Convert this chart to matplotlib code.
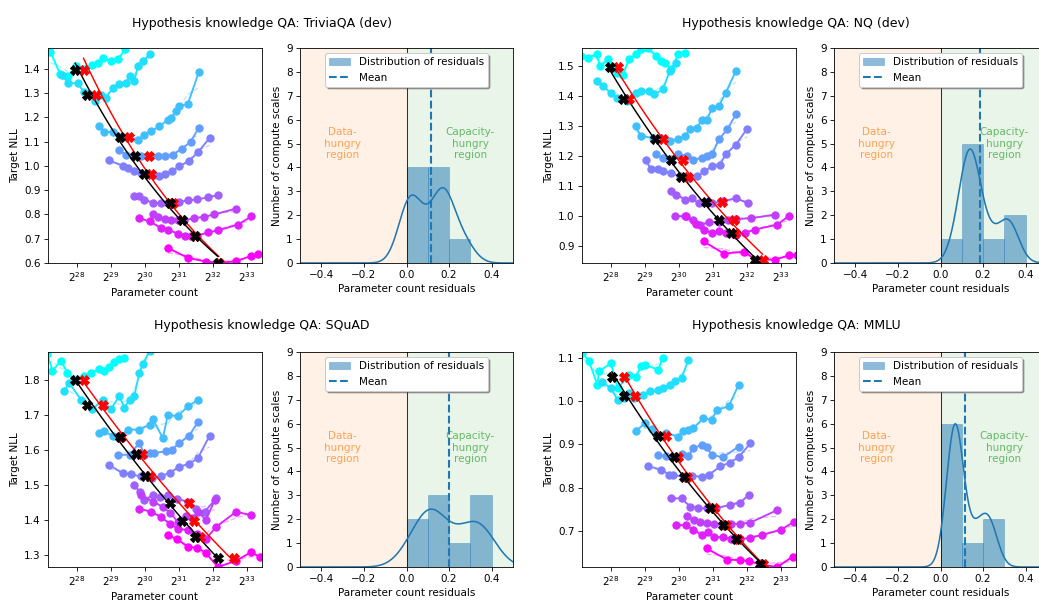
import numpy as np
import pandas as pd
import matplotlib
matplotlib.use("Agg")
import matplotlib.pyplot as plt
from matplotlib.ticker import MultipleLocator

W, H, DPI = 1039, 601, 75

# ---------------- data (x values are log2 of parameter count) ----------------
titles = ["Hypothesis knowledge QA: TriviaQA (dev)", "Hypothesis knowledge QA: NQ (dev)",
          "Hypothesis knowledge QA: SQuAD", "Hypothesis knowledge QA: MMLU"]

# TriviaQA
tq_curves_x = [
    [27.22, 27.5, 27.75, 27.97, 28.2, 28.46, 28.62, 28.78, 29.0, 29.22, 29.42],
    [27.55, 27.75, 28.02, 28.2, 28.36, 28.52, 28.7, 28.86, 29.05, 29.25, 29.45, 29.55, 29.69, 29.8, 29.95, 30.14],
    [28.66, 28.81, 29.05, 29.26, 29.5, 29.79, 29.99, 30.19, 30.43, 30.68, 30.78, 30.92, 31.02, 31.27, 31.59],
    [29.25, 29.45, 29.69, 29.89, 30.14, 30.38, 30.58, 30.82, 31.1, 31.35, 31.59],
    [28.95, 29.35, 29.5, 29.69, 29.89, 30.09, 30.28, 30.43, 30.58, 30.8, 31.02, 31.3, 31.56, 31.91],
    [29.69, 29.84, 29.99, 30.24, 30.48, 30.73, 31.0, 31.27, 31.55, 31.86, 32.15],
    [30.24, 30.38, 30.58, 30.78, 30.97, 31.15, 31.46, 31.75, 32.05, 32.69],
    [29.84, 30.14, 30.48, 30.68, 30.97, 31.17, 31.35, 31.55, 31.86, 32.15, 32.74, 33.14],
    [30.68, 31.27, 31.81, 32.15, 32.69, 33.14, 33.34, 33.6],
]
tq_curves_y = [
    [1.47, 1.38, 1.37, 1.41, 1.40, 1.415, 1.425, 1.445, 1.43, 1.44, 1.48],
    [1.375, 1.34, 1.34, 1.305, 1.295, 1.265, 1.29, 1.28, 1.32, 1.335, 1.34, 1.37, 1.35, 1.41, 1.43, 1.46],
    [1.163, 1.139, 1.14, 1.12, 1.12, 1.105, 1.128, 1.142, 1.163, 1.19, 1.197, 1.224, 1.245, 1.256, 1.386],
    [1.064, 1.045, 1.042, 1.040, 1.039, 1.042, 1.04, 1.046, 1.07, 1.10, 1.156],
    [1.023, 1.0, 0.993, 0.977, 0.970, 0.966, 0.961, 0.957, 0.965, 0.978, 0.998, 1.02, 1.055, 1.115],
    [0.877, 0.874, 0.861, 0.847, 0.845, 0.845, 0.85, 0.858, 0.862, 0.87, 0.88],
    [0.80, 0.789, 0.781, 0.778, 0.776, 0.775, 0.785, 0.79, 0.80, 0.824],
    [0.785, 0.771, 0.744, 0.737, 0.721, 0.712, 0.712, 0.712, 0.726, 0.734, 0.758, 0.792],
    [0.662, 0.621, 0.606, 0.60, 0.607, 0.63, 0.637, 0.64],
]
tq_opt_x = [27.95, 28.30, 29.26, 29.72, 29.99, 30.73, 31.10, 31.47, 32.15]
tq_opt_y = [1.393, 1.293, 1.119, 1.042, 0.968, 0.847, 0.776, 0.712, 0.602]
tq_resid = [0.17, 0.18, 0.19, 0.27, 0.14, 0.07, 0.005, 0.01, 0.02]

# NQ
nq_curves_x = [
    [27.13, 27.33, 27.58, 27.68, 27.93, 28.18, 28.35, 28.53, 28.73, 28.88, 29.1, 29.33, 29.48, 29.58, 29.78, 29.98, 30.18],
    [27.58, 27.78, 28.0, 28.18, 28.48, 28.73, 28.88, 29.13, 29.28, 29.53, 29.73, 29.93],
    [28.73, 28.88, 29.23, 29.48, 29.73, 29.98, 30.18, 30.33, 30.53, 30.68, 30.83, 30.98, 31.18, 31.38, 31.68],
    [29.33, 29.53, 29.78, 29.98, 30.23, 30.43, 30.68, 30.83, 30.98, 31.18, 31.43, 31.68],
    [29.03, 29.18, 29.38, 29.53, 29.78, 30.03, 30.28, 30.53, 30.75, 30.98, 31.2, 31.38, 31.68, 32.01],
    [29.78, 29.93, 30.18, 30.38, 30.58, 30.81, 30.98, 31.3, 31.68, 32.03],
    [29.88, 30.18, 30.43, 30.63, 30.9, 31.18, 31.45, 31.68, 32.13, 32.83],
    [30.2, 30.5, 30.75, 30.98, 31.18, 31.38, 31.68, 31.95, 32.23, 32.88, 33.23],
    [30.73, 31.33, 31.93, 32.25, 32.83, 33.23, 33.48],
]
nq_curves_y = [
    [1.533, 1.528, 1.539, 1.50, 1.524, 1.478, 1.47, 1.522, 1.539, 1.556, 1.56, 1.533, 1.517, 1.511, 1.489, 1.539, 1.542],
    [1.45, 1.433, 1.41, 1.394, 1.383, 1.411, 1.417, 1.417, 1.406, 1.422, 1.483, 1.511],
    [1.30, 1.267, 1.261, 1.261, 1.25, 1.256, 1.267, 1.289, 1.294, 1.322, 1.322, 1.361, 1.367, 1.411, 1.483],
    [1.206, 1.194, 1.19, 1.209, 1.2, 1.189, 1.194, 1.2, 1.206, 1.256, 1.29, 1.339],
    [1.189, 1.156, 1.156, 1.15, 1.144, 1.133, 1.128, 1.133, 1.15, 1.167, 1.17, 1.206, 1.239, 1.291],
    [1.083, 1.072, 1.056, 1.06, 1.044, 1.047, 1.044, 1.05, 1.061, 1.044],
    [1.002, 1.0, 0.989, 0.972, 0.98, 0.983, 0.988, 0.991, 0.994, 1.006],
    [1.0, 0.975, 0.955, 0.944, 0.95, 0.944, 0.939, 0.945, 0.956, 0.972, 1.0],
    [0.917, 0.876, 0.883, 0.856, 0.856, 0.87, 0.87],
]
nq_opt_x = [27.98, 28.35, 29.31, 29.78, 30.06, 30.81, 31.18, 31.53, 32.25]
nq_opt_y = [1.498, 1.392, 1.258, 1.189, 1.131, 1.047, 0.989, 0.944, 0.856]
nq_resid = [0.15, 0.12, 0.15, 0.23, 0.14, 0.33, 0.31, 0.09, 0.15]

# SQuAD
sq_curves_x = [
    [27.13, 27.28, 27.53, 27.72, 27.95, 28.22, 28.41, 28.66, 28.81, 28.95, 29.1, 29.25, 29.40],
    [27.63, 27.77, 28.12, 28.46, 28.76, 29.0, 29.25, 29.40, 29.55, 29.69, 29.84, 29.94, 30.14],
    [28.66, 28.81, 29.05, 29.28, 29.5, 29.84, 30.14, 30.24, 30.53, 30.68, 30.97, 31.27, 31.56],
    [29.2, 29.55, 29.84, 29.99, 30.14, 30.28, 30.63, 30.8, 31.02, 31.3, 31.56],
    [28.95, 29.35, 29.6, 29.89, 30.2, 30.48, 30.75, 31.02, 31.3, 31.56, 31.91],
    [29.69, 29.85, 29.99, 30.24, 30.45, 30.68, 30.95, 31.27, 31.5, 31.76, 32.1],
    [29.9, 30.24, 30.53, 30.75, 30.97, 31.2, 31.4, 31.56, 31.8, 32.06],
    [29.84, 30.19, 30.48, 30.73, 30.97, 31.27, 31.55, 31.8, 32.1, 32.69, 33.14],
    [30.68, 30.95, 31.27, 31.55, 31.8, 32.15, 32.69, 33.14, 33.38],
]
sq_curves_y = [
    [1.874, 1.826, 1.855, 1.821, 1.80, 1.812, 1.821, 1.831, 1.826, 1.836, 1.85, 1.861, 1.864],
    [1.768, 1.792, 1.744, 1.716, 1.744, 1.716, 1.754, 1.72, 1.744, 1.754, 1.821, 1.845, 1.883],
    [1.648, 1.653, 1.64, 1.637, 1.658, 1.658, 1.672, 1.687, 1.634, 1.701, 1.696, 1.725, 1.742],
    [1.586, 1.586, 1.62, 1.586, 1.591, 1.591, 1.596, 1.6, 1.62, 1.64, 1.679],
    [1.557, 1.533, 1.53, 1.524, 1.52, 1.524, 1.535, 1.552, 1.56, 1.576, 1.641],
    [1.50, 1.48, 1.456, 1.47, 1.465, 1.471, 1.46, 1.452, 1.43, 1.423, 1.461],
    [1.47, 1.452, 1.437, 1.42, 1.394, 1.41, 1.405, 1.423, 1.40, 1.456],
    [1.432, 1.423, 1.408, 1.389, 1.375, 1.37, 1.36, 1.345, 1.38, 1.423, 1.413],
    [1.356, 1.345, 1.322, 1.32, 1.305, 1.265, 1.283, 1.308, 1.293],
]
sq_opt_x = [27.95, 28.30, 29.28, 29.74, 30.01, 30.75, 31.10, 31.47, 32.15]
sq_opt_y = [1.799, 1.727, 1.637, 1.588, 1.526, 1.447, 1.396, 1.351, 1.290]
sq_resid = [0.17, 0.32, 0.02, 0.12, 0.09, 0.39, 0.25, 0.11, 0.33]

# MMLU
mm_curves_x = [
    [27.16, 27.36, 27.6, 27.65, 28.0, 28.2, 28.54, 28.74, 28.89, 28.99, 29.39, 29.53],
    [27.75, 28.0, 28.2, 28.4, 28.54, 28.69, 28.94, 29.14, 29.39, 29.53, 29.73, 29.88, 30.08, 30.28],
    [28.74, 28.99, 29.2, 29.39, 29.63, 29.98, 30.13, 30.28, 30.43, 30.72, 30.97, 31.12, 31.47, 31.76],
    [29.39, 29.63, 29.88, 30.1, 30.28, 30.43, 30.67, 30.82, 30.97, 31.3, 31.76],
    [29.09, 29.49, 29.7, 29.83, 30.14, 30.4, 30.67, 30.9, 31.22, 31.5, 31.76, 32.11],
    [29.78, 30.08, 30.33, 30.57, 30.82, 31.1, 31.51, 31.8, 32.06],
    [30.23, 30.45, 30.62, 30.82, 31.05, 31.3, 31.55, 31.8, 32.11, 32.9],
    [29.93, 30.2, 30.43, 30.67, 30.85, 31.05, 31.3, 31.55, 31.8, 32.1, 32.45, 33.0, 33.4],
    [30.82, 31.42, 31.8, 32.06, 32.4, 32.9, 33.35],
]
mm_curves_y = [
    [1.112, 1.092, 1.038, 1.069, 1.088, 1.03, 1.061, 1.057, 1.081, 1.085, 1.073, 1.10],
    [1.045, 1.03, 1.003, 1.007, 1.019, 1.007, 1.015, 1.023, 1.026, 1.03, 1.038, 1.046, 1.054, 1.095],
    [0.93, 0.949, 0.935, 0.92, 0.926, 0.918, 0.93, 0.934, 0.937, 0.961, 0.957, 0.98, 0.988, 1.038],
    [0.876, 0.872, 0.87, 0.878, 0.873, 0.891, 0.899, 0.893, 0.876, 0.87, 0.895],
    [0.85, 0.841, 0.83, 0.829, 0.825, 0.827, 0.825, 0.83, 0.849, 0.858, 0.87, 0.903],
    [0.775, 0.775, 0.756, 0.752, 0.752, 0.752, 0.76, 0.765, 0.783],
    [0.733, 0.725, 0.721, 0.717, 0.715, 0.713, 0.716, 0.716, 0.719, 0.748],
    [0.713, 0.713, 0.702, 0.69, 0.698, 0.685, 0.685, 0.68, 0.68, 0.684, 0.69, 0.702, 0.721],
    [0.659, 0.633, 0.632, 0.63, 0.622, 0.616, 0.64],
]
mm_opt_x = [28.03, 28.40, 29.39, 29.86, 30.14, 30.93, 31.30, 31.68, 32.40]
mm_opt_y = [1.056, 1.011, 0.92, 0.870, 0.825, 0.752, 0.713, 0.680, 0.624]
mm_resid = [0.24, 0.21, 0.16, 0.08, 0.07, 0.08, 0.07, 0.05, 0.06]

ylims = [(0.6, 1.485), (0.845, 1.56), (1.265, 1.88), (0.616, 1.114)]
xlim_log2 = (27.15, 33.45)


def px_rect(left, top, width, height):
    return [left / W, 1 - (top + height) / H, width / W, height / H]


def kde(values, grid, adjust=0.85):
    values = np.asarray(values)
    bw = adjust * values.std(ddof=1) * len(values) ** (-1 / 5)
    z = (grid[:, None] - values[None, :]) / bw
    return np.exp(-0.5 * z ** 2).sum(axis=1) / (len(values) * bw * np.sqrt(2 * np.pi))


def draw_curves(ax, curves_x, curves_y, opt_x, opt_y, resid, ylim):
    colors = plt.cm.cool(np.linspace(0, 1, len(curves_x)))
    for cx, cy, col in zip(curves_x, curves_y, colors):
        n = 2.0 ** np.asarray(cx)
        smooth = pd.Series(cy).rolling(3, center=True, min_periods=1).mean()
        ax.plot(n, smooth, "--", color=col, alpha=0.35, lw=1.3)
        ax.plot(n, cy, "-o", color=col, ms=7, lw=1.8)

    opt_x = np.asarray(opt_x)
    opt_y = np.asarray(opt_y)
    red_x = opt_x + np.asarray(resid) / np.log(2)
    for xs_pts, col in [(red_x, "red"), (opt_x, "black")]:
        coef = np.polyfit(xs_pts, np.log(opt_y), 1)
        xs = np.linspace(xs_pts.min(), xs_pts.max(), 100)
        ax.plot(2.0 ** xs, np.exp(np.polyval(coef, xs)), color=col, lw=1.4)
    ax.plot(2.0 ** red_x, opt_y, "X", color="red", ms=9, ls="none")
    ax.plot(2.0 ** opt_x, opt_y, "X", color="black", ms=9, ls="none")

    ax.set_xscale("log", base=2)
    ax.set_xlim(2.0 ** xlim_log2[0], 2.0 ** xlim_log2[1])
    ax.set_xticks([2.0 ** k for k in range(28, 34)])
    ax.set_ylim(*ylim)
    ax.yaxis.set_major_locator(MultipleLocator(0.1))
    ax.set_xlabel("Parameter count")
    ax.set_ylabel("Target NLL")


def draw_hist(ax, resid):
    ax.axvspan(-0.5, 0, color="tab:orange", alpha=0.1, lw=0)
    ax.axvspan(0, 0.5, color="tab:green", alpha=0.1, lw=0)
    ax.axvline(0, color="black", lw=1, alpha=0.8)
    bins = np.round(np.arange(-5, 6) * 0.1, 2)
    ax.hist(resid, bins=bins, color="tab:blue", alpha=0.5, edgecolor="tab:blue",
            lw=0.6, label="Distribution of residuals")
    grid = np.linspace(-0.5, 0.5, 400)
    ax.plot(grid, kde(resid, grid) * len(resid) * 0.1, color="tab:blue", lw=1.5)
    ax.axvline(np.mean(resid), color="tab:blue", ls="--", lw=2, label="Mean")
    ax.text(-0.3, 5, "Data-\nhungry\nregion", color="tab:orange", alpha=0.7,
            ha="center", va="center")
    ax.text(0.3, 5, "Capacity-\nhungry\nregion", color="tab:green", alpha=0.7,
            ha="center", va="center")
    ax.set_xlim(-0.5, 0.5)
    ax.set_ylim(0, 9)
    ax.set_yticks(range(10))
    ax.set_xlabel("Parameter count residuals")
    ax.set_ylabel("Number of compute scales")
    ax.legend(loc="upper center", shadow=True)


fig = plt.figure(figsize=(W / DPI, H / DPI), dpi=DPI)

panels = [
    (tq_curves_x, tq_curves_y, tq_opt_x, tq_opt_y, tq_resid),
    (nq_curves_x, nq_curves_y, nq_opt_x, nq_opt_y, nq_resid),
    (sq_curves_x, sq_curves_y, sq_opt_x, sq_opt_y, sq_resid),
    (mm_curves_x, mm_curves_y, mm_opt_x, mm_opt_y, mm_resid),
]
scatter_left = [48, 582]
hist_left = [300, 834]
row_top = [48, 352]
title_y = [23, 325]

for i, (cx, cy, ox, oy, res) in enumerate(panels):
    row, col = divmod(i, 2)
    ax_c = fig.add_axes(px_rect(scatter_left[col], row_top[row], 214, 215))
    ax_h = fig.add_axes(px_rect(hist_left[col], row_top[row], 213, 215))
    draw_curves(ax_c, cx, cy, ox, oy, res, ylims[i])
    draw_hist(ax_h, res)
    fig.text((scatter_left[col] + 214) / W, 1 - title_y[row] / H, titles[i],
             ha="center", va="center", fontsize=12)

fig.savefig("out.png", dpi=DPI)
